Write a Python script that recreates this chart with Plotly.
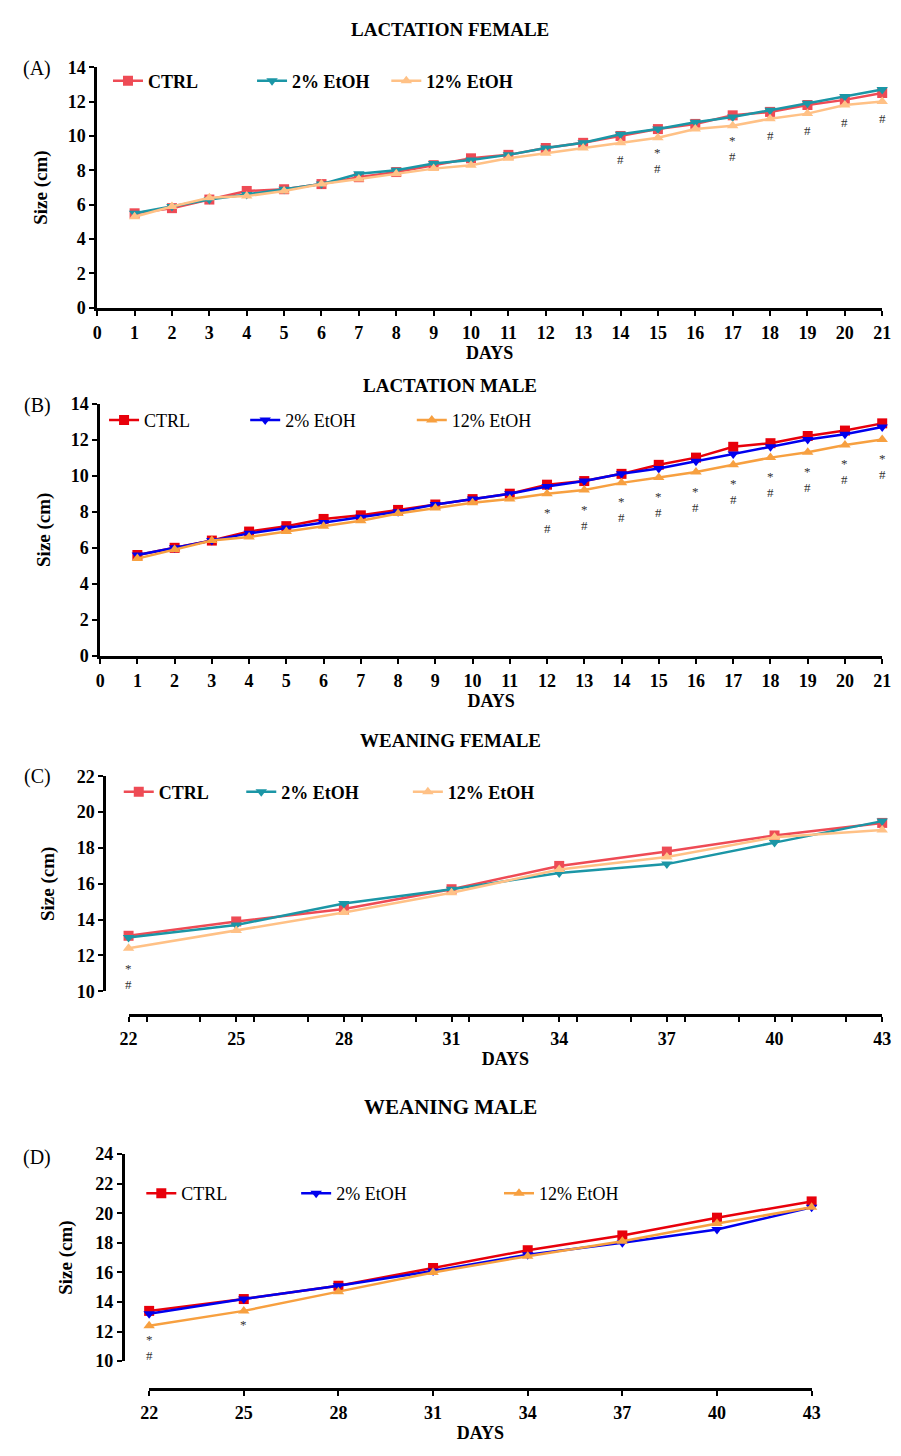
import plotly.graph_objects as go

W, H = 901, 1456
FONT = "Liberation Serif"

# ---------------- data ----------------
days_lact = list(range(1, 22))
A_ctrl = [5.5, 5.8, 6.3, 6.8, 6.9, 7.2, 7.6, 7.9, 8.3, 8.7, 8.9, 9.3, 9.6, 10.0, 10.4, 10.7, 11.2, 11.4, 11.8, 12.1, 12.5]
A_e2 = [5.5, 5.9, 6.3, 6.6, 6.9, 7.2, 7.8, 8.0, 8.4, 8.6, 8.9, 9.3, 9.6, 10.1, 10.4, 10.8, 11.1, 11.5, 11.9, 12.3, 12.7]
A_e12 = [5.3, 5.9, 6.4, 6.5, 6.8, 7.2, 7.5, 7.8, 8.1, 8.3, 8.7, 9.0, 9.3, 9.6, 9.9, 10.4, 10.6, 11.0, 11.3, 11.8, 12.0]
A_sig = {14: "#", 15: "*#", 17: "*#", 18: "#", 19: "#", 20: "#", 21: "#"}

B_ctrl = [5.6, 6.0, 6.4, 6.9, 7.2, 7.6, 7.8, 8.1, 8.4, 8.7, 9.0, 9.5, 9.7, 10.1, 10.6, 11.0, 11.6, 11.8, 12.2, 12.5, 12.9]
B_e2 = [5.6, 6.0, 6.4, 6.8, 7.1, 7.4, 7.7, 8.0, 8.4, 8.7, 9.0, 9.4, 9.7, 10.1, 10.4, 10.8, 11.2, 11.6, 12.0, 12.3, 12.7]
B_e12 = [5.4, 5.9, 6.4, 6.6, 6.9, 7.2, 7.5, 7.9, 8.2, 8.5, 8.7, 9.0, 9.2, 9.6, 9.9, 10.2, 10.6, 11.0, 11.3, 11.7, 12.0]
B_sig = {d: "*#" for d in range(12, 22)}

days_wean = [22, 25, 28, 31, 34, 37, 40, 43]
C_ctrl = [13.1, 13.9, 14.6, 15.7, 17.0, 17.8, 18.7, 19.4]
C_e2 = [13.0, 13.7, 14.9, 15.7, 16.6, 17.1, 18.3, 19.5]
C_e12 = [12.4, 13.4, 14.4, 15.5, 16.8, 17.5, 18.6, 19.0]
C_sig = {22: "*#"}

D_ctrl = [13.4, 14.2, 15.1, 16.3, 17.5, 18.5, 19.7, 20.8]
D_e2 = [13.2, 14.2, 15.1, 16.1, 17.2, 18.0, 18.9, 20.4]
D_e12 = [12.4, 13.4, 14.7, 16.0, 17.1, 18.1, 19.3, 20.4]
D_sig = {22: "*#", 25: "*"}

series_names = ["CTRL", "2% EtOH", "12% EtOH"]
titles = ["LACTATION FEMALE", "LACTATION MALE", "WEANING FEMALE", "WEANING MALE"]
panel_labels = ["(A)", "(B)", "(C)", "(D)"]

# ---------------- styles ----------------
pal_f = ["#EE4B55", "#1B96A6", "#FFC186"]
pal_m = ["#E8000B", "#0000EE", "#F7A040"]
symbols = ["square", "triangle-down", "triangle-up"]


def px(x):
    return x / W


def py(y):
    return 1 - y / H


fig = go.Figure()

panels = [
    dict(x=days_lact, ys=[A_ctrl, A_e2, A_e12], sig=A_sig, pal=pal_f, bold=True,
         xdom=(90, 891), ydom=(58, 302), xr=(0, 21), yr=(0, 14), dtx=1, dty=2,
         yaxpos=None, xaxpos=None, title_y=20, lab=(29, 59), tsize=19,
         leg=[(126, 72), (273, 72), (410, 72)], minor=False, sigoff=(11, 16)),
    dict(x=days_lact, ys=[B_ctrl, B_e2, B_e12], sig=B_sig, pal=pal_m, bold=False,
         xdom=(93, 891), ydom=(399, 655), xr=(0, 21), yr=(0, 14), dtx=1, dty=2,
         yaxpos=None, xaxpos=None, title_y=381, lab=(29, 401), tsize=19,
         leg=[(122, 416), (266, 416), (436, 416)], minor=False, sigoff=(15, 16)),
    dict(x=days_wean, ys=[C_ctrl, C_e2, C_e12], sig=C_sig, pal=pal_f, bold=True,
         xdom=(122, 891), ydom=(777, 995), xr=(22, 43), yr=(10, 22), dtx=3, dty=2,
         yaxpos=97, xaxpos=1019, title_y=741, lab=(29, 777), tsize=19,
         leg=[(137, 793), (262, 793), (432, 793)], minor=True, sigoff=(16, 16)),
    dict(x=days_wean, ys=[D_ctrl, D_e2, D_e12], sig=D_sig, pal=pal_m, bold=False,
         xdom=(143, 819), ydom=(1160, 1370), xr=(22, 43), yr=(10, 24), dtx=3, dty=2,
         yaxpos=116, xaxpos=1398, title_y=1112, lab=(29, 1163), tsize=21,
         leg=[(160, 1200), (318, 1200), (525, 1200)], minor=False, sigoff=(10, 16)),
]

annotations = []
legend_layouts = {}
leg_idx = 0

for i, p in enumerate(panels):
    n = "" if i == 0 else str(i + 1)
    xa, ya = "x" + n, "y" + n
    for k in range(3):
        leg_idx += 1
        lname = "legend" if leg_idx == 1 else "legend%d" % leg_idx
        fig.add_trace(go.Scatter(
            x=p["x"], y=p["ys"][k], name=series_names[k], mode="lines+markers",
            line=dict(color=p["pal"][k], width=2.5),
            marker=dict(symbol=symbols[k], size=10, color=p["pal"][k]),
            xaxis=xa, yaxis=ya, cliponaxis=False, legend=lname, showlegend=True))
        lx, ly = p["leg"][k]
        legend_layouts[lname] = dict(
            x=px(lx - 25), y=py(ly), xanchor="left", yanchor="middle",
            orientation="h", bgcolor="rgba(0,0,0,0)", borderwidth=0,
            font=dict(family=FONT, size=18, color="black", weight=700 if p["bold"] else 400),
            itemclick=False, itemdoubleclick=False)

    # significance marks below the 12% series
    s_star, s_gap = p["sigoff"]
    for d, txt in p["sig"].items():
        yv = p["ys"][2][p["x"].index(d)]
        if "*" in txt:
            star_shift = -(s_star + 4)
            annotations.append(dict(
                x=d, y=yv, xref=xa, yref=ya, text="*", showarrow=False,
                yanchor="middle", yshift=star_shift, borderpad=0,
                font=dict(family=FONT, size=13, color="#333333")))
        if "#" in txt:
            shift = -(s_star + 4 + s_gap) if "*" in txt else -17
            annotations.append(dict(
                x=d, y=yv, xref=xa, yref=ya, text="#", showarrow=False,
                yanchor="middle", yshift=shift, borderpad=0,
                font=dict(family=FONT, size=13, color="#333333")))

    axis_common = dict(showline=True, linecolor="black", linewidth=2.5,
                       ticks="outside", ticklen=5, tickwidth=2, tickcolor="black",
                       showgrid=False, zeroline=False,
                       tickfont=dict(family=FONT, size=18, color="black", weight=700))
    xkw = dict(axis_common, domain=[px(p["xdom"][0]), px(p["xdom"][1])],
               range=list(p["xr"]), tickmode="linear", tick0=p["xr"][0], dtick=p["dtx"],
               ticklabelstandoff=2,
               title=dict(text="DAYS", font=dict(family=FONT, size=18, color="black", weight=700),
                          standoff=4))
    if p["minor"]:
        xkw["minor"] = dict(ticks="outside", ticklen=5, tickwidth=2, tickcolor="black",
                            dtick=p["dtx"] / 2, showgrid=False)
    ykw = dict(axis_common, domain=[py(p["ydom"][1]), py(p["ydom"][0])],
               range=list(p["yr"]), tickmode="linear", tick0=p["yr"][0], dtick=p["dty"],
               title=dict(text="Size (cm)", font=dict(family=FONT, size=19, color="black", weight=700),
                          standoff=16))
    if p["xaxpos"] is not None:
        xkw.update(anchor="free", position=py(p["xaxpos"]))
    else:
        xkw.update(anchor=ya)
    if p["yaxpos"] is not None:
        ykw.update(anchor="free", position=px(p["yaxpos"]))
    else:
        ykw.update(anchor=xa)
    fig.update_layout(**{"xaxis" + n: xkw, "yaxis" + n: ykw})

    annotations.append(dict(x=px(450), y=py(p["title_y"]), xref="paper", yref="paper",
                            text="<b>%s</b>" % titles[i], showarrow=False,
                            xanchor="center", yanchor="middle",
                            font=dict(family=FONT, size=p["tsize"], color="black")))
    annotations.append(dict(x=px(p["lab"][0]), y=py(p["lab"][1]), xref="paper", yref="paper",
                            text=panel_labels[i], showarrow=False,
                            xanchor="center", yanchor="middle",
                            font=dict(family=FONT, size=20, color="black")))

fig.update_layout(
    width=W, height=H, margin=dict(l=0, r=0, t=0, b=0),
    paper_bgcolor="white", plot_bgcolor="white",
    annotations=annotations, **legend_layouts)

fig.write_html("out.html")
